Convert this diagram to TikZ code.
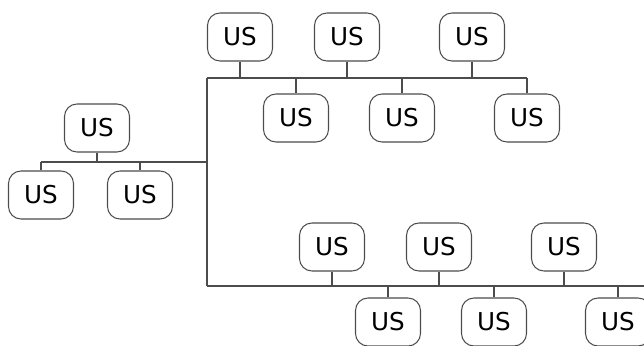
\documentclass[tikz,border=0pt]{standalone}
\usepackage{fontspec}
\setmainfont{DejaVu Sans}
\usetikzlibrary{positioning}
\tikzset{
	us/.style = {draw=black!70, rounded corners=0.25cm, minimum width=1.3cm,
	 minimum height=0.96cm, inner sep=0pt, font=\fontsize{14}{16}\selectfont},
	bus/.style = {draw=black!70, line width=0.6pt}}

\begin{document}
\begin{tikzpicture}[line width=0.6pt]
\useasboundingbox (0,0) rectangle (12.88,-6.9);
\clip (0,0) rectangle (12.88,-6.9);

% NODES
% left group
\node (lroot) [us] at (1.94,-2.56) {US};
\node (la) [us] at (0.82,-3.9) {US};
\node (lb) [us] at (2.8,-3.9) {US};
% upper group
\node (ua) [us] at (4.8,-0.74) {US};
\node (ub) [us] at (6.94,-0.74) {US};
\node (uc) [us] at (9.44,-0.74) {US};
\node (ud) [us] at (5.92,-2.36) {US};
\node (ue) [us] at (8.04,-2.36) {US};
\node (uf) [us] at (10.54,-2.36) {US};
% lower group
\node (da) [us] at (6.64,-4.94) {US};
\node (db) [us] at (8.78,-4.94) {US};
\node (dc) [us] at (11.28,-4.94) {US};
\node (dd) [us] at (7.76,-6.44) {US};
\node (de) [us] at (9.88,-6.44) {US};
\node (df) [us] at (12.36,-6.44) {US};
% bus ends
\coordinate (lbus) at (0.82,-3.24);
\coordinate (junc) at (4.14,-3.24);
\coordinate (ubus) at (4.14,-1.56);
\coordinate (uend) at (10.54,-1.56);
\coordinate (dbus) at (4.14,-5.72);
\coordinate (dend) at (13.2,-5.72);

%CONNECTIONS
% buses
\draw [bus] (lbus) -- (junc);
\draw [bus] (ubus) -- (dbus);
\draw [bus] (ubus) -- (uend);
\draw [bus] (dbus) -- (dend);
% left group
\draw [bus] (lroot) -- (lroot |- junc);
\draw [bus] (la |- junc) -- (la);
\draw [bus] (lb |- junc) -- (lb);
% upper group
\draw [bus] (ua) -- (ua |- ubus);
\draw [bus] (ub) -- (ub |- ubus);
\draw [bus] (uc) -- (uc |- ubus);
\draw [bus] (ud |- ubus) -- (ud);
\draw [bus] (ue |- ubus) -- (ue);
\draw [bus] (uf |- ubus) -- (uf);
% lower group
\draw [bus] (da) -- (da |- dbus);
\draw [bus] (db) -- (db |- dbus);
\draw [bus] (dc) -- (dc |- dbus);
\draw [bus] (dd |- dbus) -- (dd);
\draw [bus] (de |- dbus) -- (de);
\draw [bus] (df |- dbus) -- (df);

\end{tikzpicture}
\end{document}
